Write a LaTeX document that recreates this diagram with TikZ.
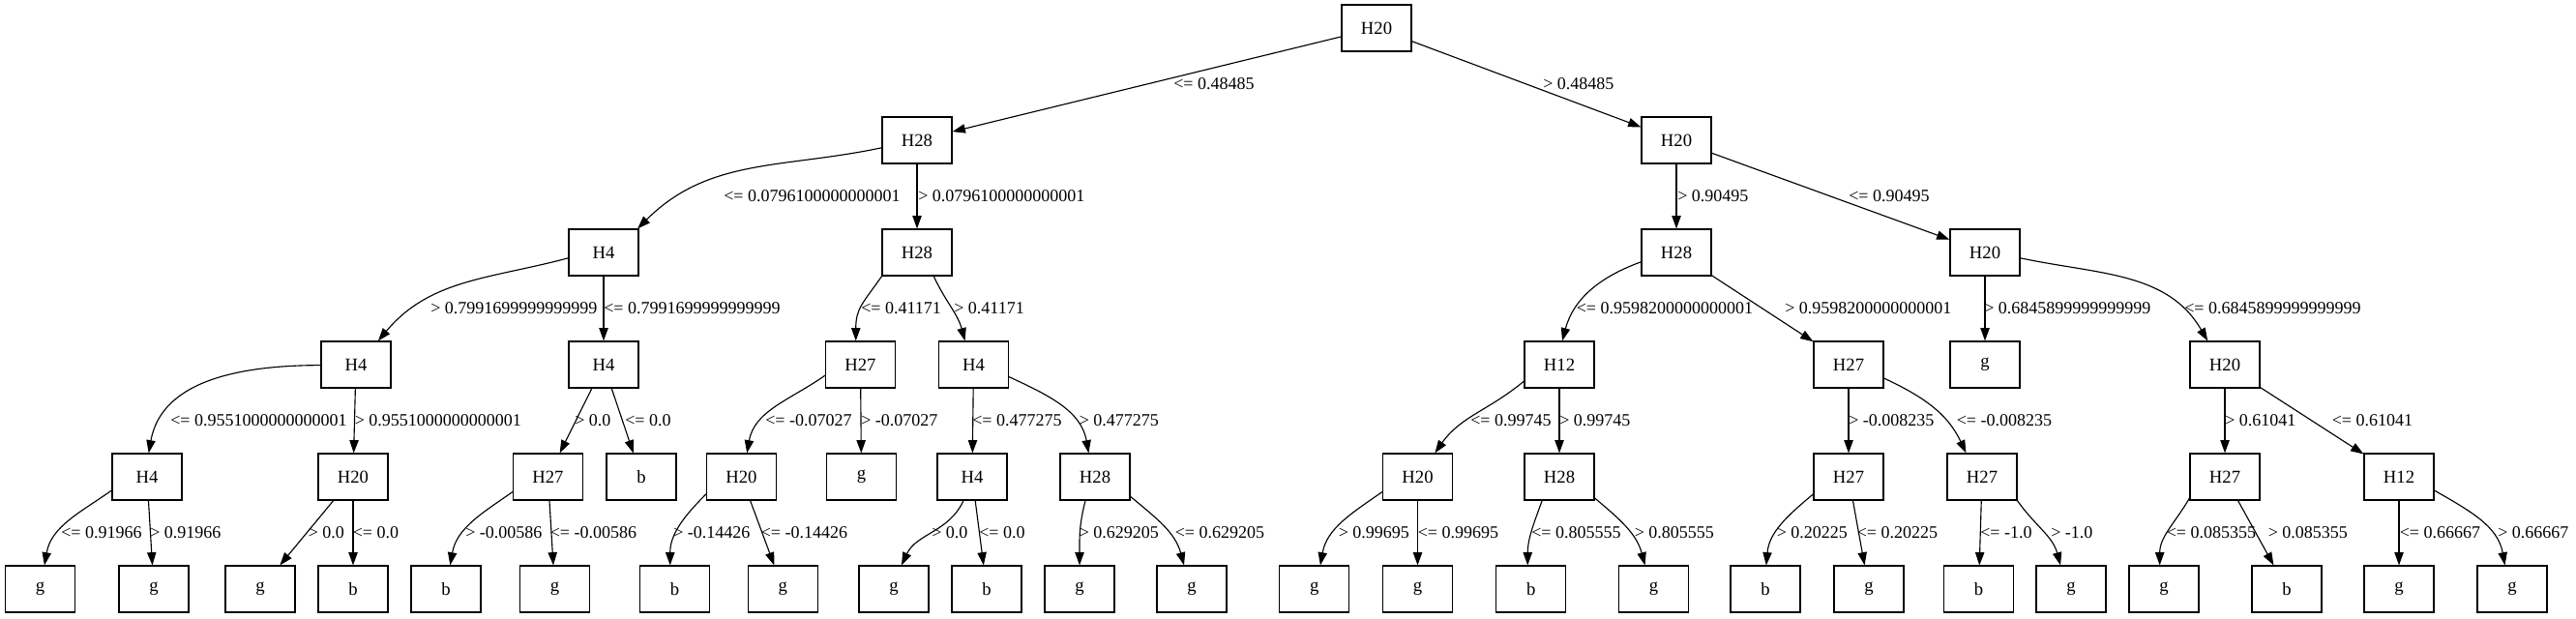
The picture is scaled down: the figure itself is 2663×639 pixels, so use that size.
\documentclass[tikz,border=0pt]{standalone}
\usepackage{fontspec}
\setmainfont{Liberation Serif}
\usetikzlibrary{arrows.meta}
\begin{document}
\begin{tikzpicture}[x=0.75pt,y=0.75pt,
  box/.style={draw, line width=0.85pt, minimum width=54pt, minimum height=36pt, inner sep=0pt, font=\fontsize{14pt}{16pt}\selectfont},
  lbl/.style={anchor=west, inner sep=0pt, font=\fontsize{13.5pt}{16pt}\selectfont},
  conn/.style={line width=0.85pt, -{Triangle[length=10pt,width=7pt]}}]
\useasboundingbox (0,0) rectangle (2663,-639);
% level 0
\node[box] (n0) at (1423,-29) {H20};
% level 1
\node[box] (n1) at (948,-145) {H28};
\node[box] (n2) at (1733,-145) {H20};
% level 2
\node[box] (n3) at (624,-261) {H4};
\node[box] (n4) at (948,-261) {H28};
\node[box] (n5) at (1733,-261) {H28};
\node[box] (n6) at (2052,-261) {H20};
% level 3
\node[box] (n7) at (368,-377) {H4};
\node[box] (n8) at (624,-377) {H4};
\node[box] (n9) at (889.5,-377) {H27};
\node[box] (n10) at (1006.5,-377) {H4};
\node[box] (n11) at (1612,-377) {H12};
\node[box] (n12) at (1911,-377) {H27};
\node[box] (n13) at (2052,-377) {g};
\node[box] (n14) at (2300,-377) {H20};
% level 4
\node[box] (n15) at (152,-493) {H4};
\node[box] (n16) at (365,-493) {H20};
\node[box] (n17) at (566.5,-493) {H27};
\node[box] (n18) at (663,-493) {b};
\node[box] (n19) at (766.5,-493) {H20};
\node[box] (n20) at (890.5,-493) {g};
\node[box] (n21) at (1005,-493) {H4};
\node[box] (n22) at (1132,-493) {H28};
\node[box] (n23) at (1465.5,-493) {H20};
\node[box] (n24) at (1612,-493) {H28};
\node[box] (n25) at (1911,-493) {H27};
\node[box] (n26) at (2049,-493) {H27};
\node[box] (n27) at (2300,-493) {H27};
\node[box] (n28) at (2480,-493) {H12};
% level 5
\node[box] (l1) at (41.6,-609) {g};
\node[box] (l2) at (159,-609) {g};
\node[box] (l3) at (269,-609) {g};
\node[box] (l4) at (365,-609) {b};
\node[box] (l5) at (461,-609) {b};
\node[box] (l6) at (573.5,-609) {g};
\node[box] (l7) at (697.5,-609) {b};
\node[box] (l8) at (809.4,-609) {g};
\node[box] (l9) at (924,-609) {g};
\node[box] (l10) at (1020,-609) {b};
\node[box] (l11) at (1116,-609) {g};
\node[box] (l12) at (1232,-609) {g};
\node[box] (l13) at (1358.8,-609) {g};
\node[box] (l14) at (1465.5,-609) {g};
\node[box] (l15) at (1582.7,-609) {b};
\node[box] (l16) at (1709.5,-609) {g};
\node[box] (l17) at (1825,-609) {b};
\node[box] (l18) at (1932,-609) {g};
\node[box] (l19) at (2045.5,-609) {b};
\node[box] (l20) at (2141,-609) {g};
\node[box] (l21) at (2237,-609) {g};
\node[box] (l22) at (2364,-609) {b};
\node[box] (l23) at (2480,-609) {g};
\node[box] (l24) at (2597,-609) {g};
% edges
\draw[conn] (n0) -- (n1);
\draw[conn] (n0) -- (n2);
\draw[conn] (n1.192) to[out=192,in=45] (n3.35);
\draw[conn] (n1) -- (n4);
\draw[conn] (n2) -- (n5);
\draw[conn] (n2) -- (n6);
\draw[conn] (n3.189) to[out=195,in=50] (n7.47);
\draw[conn] (n3) -- (n8);
\draw[conn] (n4.214) to[out=235,in=90,looseness=1.2] (n9.101);
\draw[conn] (n4.305) to[out=295,in=105] (n10.110);
\draw[conn] (n5.195) to[out=200,in=75] (n11.83);
\draw[conn] (n5) -- (n12);
\draw[conn] (n6) -- (n13);
\draw[conn] (n6.351) to[out=348,in=120] (n14.126);
\draw[conn] (n7.181) to[out=180,in=80] (n15.86);
\draw[conn] (n7) -- (n16);
\draw[conn] (n8) -- (n17);
\draw[conn] (n8) -- (n18);
\draw[conn] (n9.197) to[out=215,in=80] (n19.77);
\draw[conn] (n9) -- (n20);
\draw[conn] (n10) -- (n21);
\draw[conn] (n10.341) to[out=335,in=100] (n22.105);
\draw[conn] (n11.205) to[out=220,in=55] (n23.54);
\draw[conn] (n11) -- (n24);
\draw[conn] (n12) -- (n25);
\draw[conn] (n12.339) to[out=335,in=115] (n26.124);
\draw[conn] (n14) -- (n27);
\draw[conn] (n14) -- (n28);
\draw[conn] (n15.201) to[out=215,in=80] (l1.80);
\draw[conn] (n15) -- (l2);
\draw[conn] (n16) -- (l3);
\draw[conn] (n16) -- (l4);
\draw[conn] (n17.203) to[out=215,in=80] (l5.80);
\draw[conn] (n17) -- (l6);
\draw[conn] (n19.206) to[out=225,in=90] (l7.101);
\draw[conn] (n19) -- (l8);
\draw[conn] (n21.250) to[out=245,in=65] (l9.72);
\draw[conn] (n21) -- (l10);
\draw[conn] (n22.248) to[out=255,in=90] (l11.north);
\draw[conn] (n22.331) to[out=320,in=105] (l12.108);
\draw[conn] (n23.203) to[out=215,in=80] (l13.76);
\draw[conn] (n23) -- (l14);
\draw[conn] (n24.234) to[out=250,in=90] (l15.98);
\draw[conn] (n24.329) to[out=320,in=105] (l16.110);
\draw[conn] (n25.206) to[out=220,in=85] (l17.88);
\draw[conn] (n25) -- (l18);
\draw[conn] (n26) -- (l19);
\draw[conn] (n26.326) to[out=305,in=105] (l20.114);
\draw[conn] (n27.211) to[out=240,in=90] (l21.100);
\draw[conn] (n27) -- (l22);
\draw[conn] (n28) -- (l23);
\draw[conn] (n28.339) to[out=330,in=100] (l24.107);
% labels
\node[lbl] (t1) at (1213,-87) {<= 0.48485};
\node[lbl] (t2) at (1595,-87) {> 0.48485};
\node[lbl] (t3) at (748,-203) {<= 0.0796100000000001};
\node[lbl] (t4) at (949,-203) {> 0.0796100000000001};
\node[lbl] (t5) at (1734,-203) {> 0.90495};
\node[lbl] (t6) at (1911,-203) {<= 0.90495};
\node[lbl] (t7) at (445,-319) {> 0.7991699999999999};
\node[lbl] (t8) at (624,-319) {<= 0.7991699999999999};
\node[lbl] (t9) at (890,-319) {<= 0.41171};
\node[lbl] (t10) at (986,-319) {> 0.41171};
\node[lbl] (t11) at (1629.5,-319) {<= 0.9598200000000001};
\node[lbl] (t12) at (1845,-319) {> 0.9598200000000001};
\node[lbl] (t13) at (2051,-319) {> 0.6845899999999999};
\node[lbl] (t14) at (2258,-319) {<= 0.6845899999999999};
\node[lbl] (t15) at (176,-435) {<= 0.9551000000000001};
\node[lbl] (t16) at (366.5,-435) {> 0.9551000000000001};
\node[lbl] (t17) at (594,-435) {> 0.0};
\node[lbl] (t18) at (646,-435) {<= 0.0};
\node[lbl] (t19) at (791,-435) {<= -0.07027};
\node[lbl] (t20) at (890,-435) {> -0.07027};
\node[lbl] (t21) at (1005,-435) {<= 0.477275};
\node[lbl] (t22) at (1115.5,-435) {> 0.477275};
\node[lbl] (t23) at (1520,-435) {<= 0.99745};
\node[lbl] (t24) at (1612,-435) {> 0.99745};
\node[lbl] (t25) at (1911,-435) {> -0.008235};
\node[lbl] (t26) at (2022.5,-435) {<= -0.008235};
\node[lbl] (t27) at (2300,-435) {> 0.61041};
\node[lbl] (t28) at (2410.5,-435) {<= 0.61041};
\node[lbl] (t29) at (63,-551) {<= 0.91966};
\node[lbl] (t30) at (155,-551) {> 0.91966};
\node[lbl] (t31) at (318.5,-551) {> 0.0};
\node[lbl] (t32) at (364.5,-551) {<= 0.0};
\node[lbl] (t33) at (481,-551) {> -0.00586};
\node[lbl] (t34) at (568.5,-551) {<= -0.00586};
\node[lbl] (t35) at (696,-551) {> -0.14426};
\node[lbl] (t36) at (786.5,-551) {<= -0.14426};
\node[lbl] (t37) at (963,-551) {> 0.0};
\node[lbl] (t38) at (1012,-551) {<= 0.0};
\node[lbl] (t39) at (1115.5,-551) {> 0.629205};
\node[lbl] (t40) at (1214.5,-551) {<= 0.629205};
\node[lbl] (t41) at (1383.5,-551) {> 0.99695};
\node[lbl] (t42) at (1465.5,-551) {<= 0.99695};
\node[lbl] (t43) at (1583,-551) {<= 0.805555};
\node[lbl] (t44) at (1689.5,-551) {> 0.805555};
\node[lbl] (t45) at (1836.5,-551) {> 0.20225};
\node[lbl] (t46) at (1919.5,-551) {<= 0.20225};
\node[lbl] (t47) at (2047,-551) {<= -1.0};
\node[lbl] (t48) at (2120,-551) {> -1.0};
\node[lbl] (t49) at (2239.5,-551) {<= 0.085355};
\node[lbl] (t50) at (2344.5,-551) {> 0.085355};
\node[lbl] (t51) at (2480.5,-551) {<= 0.66667};
\node[lbl] (t52) at (2582,-551) {> 0.66667};
\end{tikzpicture}
\end{document}
